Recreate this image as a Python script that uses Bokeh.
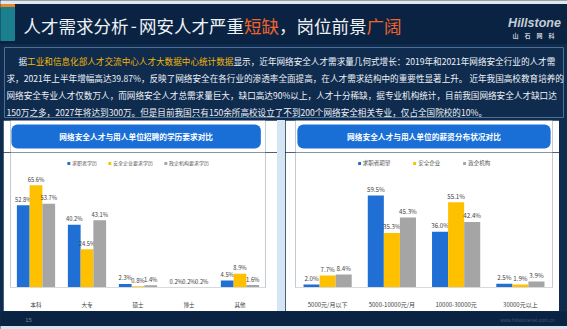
from bokeh.plotting import figure
from bokeh.models import Range1d, FactorRange, BoxAnnotation, Spacer, Label, ColumnDataSource
from bokeh.layouts import column, row
from bokeh.transform import dodge
from bokeh.core.properties import value
from bokeh.embed import file_html
from bokeh.resources import INLINE

# ---------------- data ----------------
edu_categories = ["本科", "大专", "硕士", "博士", "其他"]
edu_series = ["求职者学历", "安全企业要求学历", "政企机构要求学历"]
edu_seekers = [52.8, 40.2, 2.3, 0.2, 4.5]
edu_security = [65.6, 24.5, 0.8, 0.2, 8.9]
edu_gov = [53.7, 43.1, 1.4, 0.2, 1.6]

salary_categories = ["5000元/月以下", "5000-10000元/月", "10000-30000元", "30000元以上"]
salary_series = ["求职者期望", "安全企业", "政企机构"]
salary_seekers = [2.0, 59.5, 36.0, 2.5]
salary_security = [7.7, 35.3, 55.1, 1.9]
salary_gov = [8.4, 45.3, 42.4, 3.9]

edu_title = "网络安全人才与用人单位招聘的学历要求对比"
salary_title = "网络安全人才与用人单位的薪资分布状况对比"

title_parts = [("人才需求分析", "w"), ("-", "w"), ("网安人才严重", "w"), ("短缺", "o"),
               ("，岗位前景", "w"), ("广阔", "o")]

intro_lines = [
    [("据", "w"), ("工业和信息化部人才交流中心人才大数据中心统计数据", "g"),
     ("显示，近年网络安全人才需求量几何式增长：2019年和2021年网络安全行业的人才需", "w")],
    [("求，2021年上半年增幅高达39.87%，反映了网络安全在各行业的渗透率全面提高，在人才需求结构中的重要性显著上升。 近年我国高校教育培养的", "w")],
    [("网络安全专业人才仅数万人，而网络安全人才总需求量巨大，缺口高达90%以上，人才十分稀缺，据专业机构统计，目前我国网络安全人才缺口达", "w")],
    [("150万之多，2027年将达到300万。但是目前我国只有150余所高校设立了不到200个网络安全相关专业，仅占全国院校的10%。", "w")],
]

# ---------------- style ----------------
CJK = "Noto Sans CJK SC"
NAVY = "#0f2b4e"
BAR_DARK = "#0b2342"
BLUE = "#1f6fd4"
GOLD = "#ffc000"
GREY = "#a5a5a5"
HEAD = "#1a6fd6"
TXT = {"w": "#eef2f7", "o": "#f0642a", "g": "#f2b705"}


def em_width(s):
    w = 0.0
    for ch in s:
        if ord(ch) > 0x2E80:
            w += 1.0
        elif ch == "-":
            w += 0.6
        else:
            w += 0.56
    return w


def deco_fig(w, h, bg):
    p = figure(width=w, height=h, x_range=Range1d(0, w), y_range=Range1d(h, 0),
               output_backend="svg", toolbar_location=None, min_border=0,
               x_axis_location=None, y_axis_location=None,
               background_fill_color=bg, border_fill_color=bg, outline_line_color=None)
    p.grid.visible = False
    return p


def lab(p, x, y, text, size, color, align="left", style="normal", font=CJK, baseline="middle"):
    p.add_layout(Label(x=x, y=y, text=text, text_font=font, text_font_size=f"{size}px",
                       text_color=color, text_align=align, text_baseline=baseline,
                       text_font_style=style))


# ---------------- top area ----------------
top = deco_fig(567, 120, NAVY)
top.quad(left=0, right=567, top=0, bottom=4, color="#e2e7ed")
top.quad(left=0, right=567, top=4, bottom=43, color=BAR_DARK)
top.quad(left=0, right=14, top=4, bottom=7, color="#e8892b")
top.quad(left=0, right=14, top=7, bottom=40, color="#1b7f8e")

tsize = 17.5
x = 23.0
for txt, c in title_parts:
    if txt == "-":
        lab(top, x + tsize * 0.3, 25, txt, tsize, TXT[c], align="center")
    else:
        lab(top, x, 25, txt, tsize, TXT[c])
    x += em_width(txt) * tsize

lab(top, 534, 22, "Hillstone", 12.5, "#c5cdd6", align="center", style="bold italic", font="Liberation Sans")
lab(top, 533, 35, "山　石　网　科", 6, "#c5cdd6", align="center", style="bold")

top.quad(left=4, right=563, top=47, bottom=117, fill_color=NAVY, line_color="#4f6f96", line_width=1)

psize = 8.6
line_y = [60, 77, 94, 111]
for i, segs in enumerate(intro_lines):
    x = 18.0 if i == 0 else 6.0
    for txt, c in segs:
        lab(top, x, line_y[i], txt, psize, TXT[c])
        x += em_width(txt) * psize


# ---------------- panels ----------------
def header(w, left, right, title):
    p = figure(width=w, height=32, x_range=Range1d(0, w), y_range=Range1d(0, 32),
               output_backend="svg", toolbar_location=None, min_border=0,
               x_axis_location=None, y_axis_location=None,
               background_fill_color="white", border_fill_color="white", outline_line_color=None)
    p.grid.visible = False
    p.add_layout(BoxAnnotation(left=left, right=right, bottom=4, top=28, fill_color=HEAD,
                               fill_alpha=1, line_color=None, border_radius=6))
    lab(p, (left + right) / 2, 16, title, 7.7, "white", align="center", style="bold")
    return p


def bar_chart(cats, names, series, w, h, ymax, bl, br, bb, standoff, cat_size, val_size, leg_size, leg_spacing):
    p = figure(x_range=FactorRange(factors=cats), y_range=Range1d(0, ymax), width=w, height=h,
               output_backend="svg", toolbar_location=None,
               min_border_left=bl, min_border_right=br, min_border_top=0, min_border_bottom=bb,
               background_fill_color="white", border_fill_color="white", outline_line_color=None)
    data = {"cat": cats}
    for i, vals in enumerate(series):
        data[f"s{i}"] = vals
        data[f"l{i}"] = [f"{v:.1f}%" for v in vals]
    src = ColumnDataSource(data)
    colors = [BLUE, GOLD, GREY]
    offsets = [-0.25, 0.0, 0.25]
    for i, name in enumerate(names):
        xd = dodge("cat", offsets[i], range=p.x_range)
        p.vbar(x=xd, top=f"s{i}", width=0.25, source=src, fill_color=colors[i],
               line_color=None, legend_label=name)
        p.text(x=xd, y=f"s{i}", text=f"l{i}", source=src, text_align="center",
               text_baseline="bottom", y_offset=-1.5, text_font=value(CJK),
               text_font_size=f"{val_size}px", text_color="#404040")
    p.yaxis.visible = False
    p.grid.grid_line_color = None
    ax = p.xaxis
    ax.major_tick_line_color = None
    ax.minor_tick_line_color = None
    ax.axis_line_color = "#d9d9d9"
    ax.major_label_text_font = CJK
    ax.major_label_text_font_size = f"{cat_size}px"
    ax.major_label_text_color = "#404040"
    ax.major_label_standoff = standoff
    lg = p.legend[0]
    lg.location = "top_center"
    lg.orientation = "horizontal"
    lg.margin = 7
    lg.padding = 0
    lg.spacing = leg_spacing
    lg.glyph_width = 4
    lg.glyph_height = 4
    lg.label_height = 6
    lg.label_standoff = 2
    lg.label_text_font = CJK
    lg.label_text_font_size = f"{leg_size}px"
    lg.label_text_color = "#595959"
    lg.background_fill_alpha = 0
    lg.border_line_color = None
    return p


left_chart = bar_chart(edu_categories, edu_series, [edu_seekers, edu_security, edu_gov],
                       274, 159, 86.6, 7, 12, 19, 7, 5.5, 5.8, 5.0, 10)
right_chart = bar_chart(salary_categories, salary_series, [salary_seekers, salary_security, salary_gov],
                        274, 159, 87.3, 10, 7, 21, 6, 6.0, 6.2, 5.5, 22)

left_panel = column(header(274, 1, 269, edu_title), left_chart, spacing=0)
right_panel = column(header(274, 2, 272, salary_title), right_chart, spacing=0)

mid = row(
    Spacer(width=3, height=191, styles={"background-color": NAVY}),
    left_panel,
    Spacer(width=8, height=191, styles={"background-color": "#d5e5f3"}),
    right_panel,
    Spacer(width=8, height=191, styles={"background-color": NAVY}),
    spacing=0,
)

bottom = deco_fig(567, 18, BAR_DARK)
bottom.quad(left=0, right=567, top=15, bottom=18, color="#d9e2ea")
lab(bottom, 28, 8, "15", 6, "#6f8196", align="center", font="Liberation Sans")
lab(bottom, 527, 8, "www.hillstonenet.com.cn", 5, "#3a5677", align="center", font="Liberation Sans")

page = column(top, mid, bottom, spacing=0, styles={"background-color": NAVY})

open("out.html", "w").write(file_html(page, INLINE))
